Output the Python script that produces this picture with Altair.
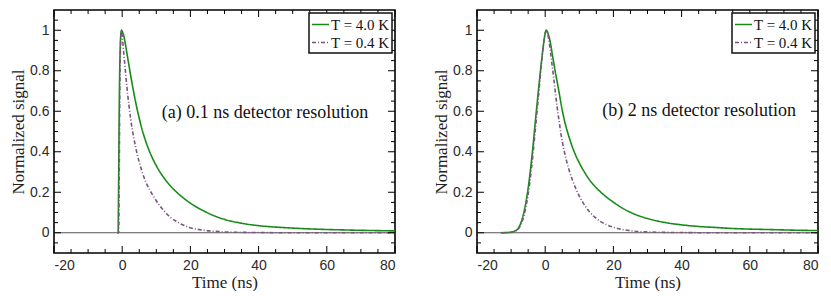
import altair as alt
import pandas as pd

SERIES = ["T = 4.0 K", "T = 0.4 K"]
COLORS = ["#178a17", "#7b5580"]
PANEL_TEXT = ["(a) 0.1 ns detector resolution", "(b) 2 ns detector resolution"]

# Panel (a): 0.1 ns resolution
a_hot_t = [-1.5, -1.2, -1.1, -1.0, -0.9, -0.8, -0.6, -0.4, -0.2, 0, 0.5, 1, 1.5, 2, 2.5, 3, 3.5, 4, 5, 6, 7, 8, 9,
           10, 11, 12, 13, 14, 15, 16, 17, 18, 20, 22, 24, 26.5, 30, 35, 40, 45, 50, 55, 60, 65, 70, 75, 80]
a_hot_v = [0, 0, 0.15, 0.35, 0.55, 0.72, 0.9, 0.98, 1.0, 0.995, 0.97, 0.925, 0.875, 0.825, 0.775, 0.728, 0.683,
           0.64, 0.565, 0.5, 0.447, 0.402, 0.364, 0.331, 0.302, 0.277, 0.254, 0.234, 0.216, 0.2, 0.185, 0.171,
           0.146, 0.125, 0.107, 0.087, 0.066, 0.047, 0.035, 0.028, 0.023, 0.019, 0.016, 0.014, 0.012, 0.0105, 0.009]
a_cold_t = [-1.5, -1.0, -0.9, -0.8, -0.7, -0.55, -0.4, -0.2, 0, 0.5, 1.15, 1.6, 2, 2.5, 2.9, 3.3, 4, 5, 6, 7, 8, 8.9,
            10, 11, 12, 13, 14.3, 16, 17.5, 19.7, 22, 24, 26.5, 30, 35, 40, 50, 80]
a_cold_v = [0, 0, 0.2, 0.45, 0.7, 0.88, 0.97, 1.0, 0.97, 0.88, 0.76, 0.685, 0.625, 0.56, 0.515, 0.478, 0.418, 0.348,
            0.293, 0.248, 0.213, 0.188, 0.158, 0.134, 0.113, 0.094, 0.074, 0.055, 0.041, 0.026, 0.017, 0.012, 0.008,
            0.004, 0.002, 0.001, 0, 0]

# Panel (b): 2 ns resolution
b_hot_t = [-13, -11, -10, -9, -8, -7, -6, -5, -4, -3.5, -3, -2, -1, -0.5, 0, 0.3, 0.7, 1, 1.5, 2, 2.5, 3, 3.4, 4, 5,
           6, 6.5, 7, 8, 9, 10, 11, 12, 13, 14, 15, 16, 17, 18, 20, 23, 26.5, 30, 35, 40, 45, 50, 55, 60, 65, 70,
           75, 80]
b_hot_v = [0, 0.001, 0.003, 0.008, 0.02, 0.055, 0.12, 0.22, 0.36, 0.44, 0.53, 0.7, 0.86, 0.93, 0.985, 1.0, 0.99,
           0.975, 0.94, 0.89, 0.84, 0.79, 0.755, 0.7, 0.605, 0.53, 0.5, 0.472, 0.422, 0.38, 0.345, 0.314, 0.286,
           0.261, 0.24, 0.221, 0.205, 0.19, 0.176, 0.151, 0.118, 0.09, 0.07, 0.051, 0.039, 0.031, 0.026, 0.021,
           0.018, 0.016, 0.014, 0.012, 0.011]
b_cold_t = [-13, -10, -9, -8, -7, -6, -5, -4, -3, -2, -1, -0.5, 0, 0.3, 0.7, 1, 1.5, 2, 2.45, 3, 3.5, 4, 4.6, 5, 6,
            7, 8, 9, 10, 11, 12, 13, 14, 16, 18, 20, 23, 26, 30, 35, 40, 50, 80]
b_cold_v = [0, 0.002, 0.006, 0.016, 0.045, 0.1, 0.19, 0.32, 0.49, 0.67, 0.85, 0.93, 0.985, 1.0, 0.985, 0.96, 0.9,
            0.83, 0.77, 0.69, 0.62, 0.56, 0.49, 0.452, 0.372, 0.31, 0.26, 0.217, 0.181, 0.151, 0.125, 0.103, 0.085,
            0.058, 0.04, 0.027, 0.015, 0.008, 0.004, 0.002, 0.001, 0, 0]

x_major = [-20, 0, 20, 40, 60, 80]
x_minor = [-15, -10, -5, 5, 10, 15, 25, 30, 35, 45, 50, 55, 65, 70, 75]
y_major = [0, 0.2, 0.4, 0.6, 0.8, 1]
y_minor = [-0.05, 0.05, 0.1, 0.15, 0.25, 0.3, 0.35, 0.45, 0.5, 0.55, 0.65, 0.7, 0.75, 0.85, 0.9, 0.95, 1.05]

W, H = 341, 243
MAJ, MIN = 7, 4
SERIF = "Liberation Serif"
SANS = "Liberation Sans"

xs = alt.Scale(domain=[-20, 80], nice=False, zero=False)
ys = alt.Scale(domain=[-0.1, 1.1], nice=False, zero=False)


def panel(hot_t, hot_v, cold_t, cold_v, label, lx, ly):
    df = pd.concat([
        pd.DataFrame({"t": hot_t, "v": hot_v, "s": SERIES[0], "o": 0}),
        pd.DataFrame({"t": cold_t, "v": cold_v, "s": SERIES[1], "o": 1}),
    ])
    base_x = alt.X("t:Q", scale=xs, axis=alt.Axis(values=x_major, title="Time (ns)", labelExpr="'' + datum.value",
                                                  titleFont=SERIF, labelFont=SANS))
    base_y = alt.Y("v:Q", scale=ys, axis=alt.Axis(values=y_major, title="Normalized signal",
                                                  labelExpr="'' + datum.value", titleFont=SERIF, labelFont=SANS))
    zero = alt.Chart(pd.DataFrame({"z": [0]})).mark_rule(color="#555555", strokeWidth=1).encode(
        y=alt.Y("z:Q", scale=ys))
    lines = alt.Chart(df).mark_line(strokeWidth=1.6, clip=True, interpolate="monotone").encode(
        x=base_x, y=base_y,
        color=alt.Color("s:N", scale=alt.Scale(domain=SERIES, range=COLORS),
                        legend=alt.Legend(title=None, orient="top-right")),
        strokeDash=alt.StrokeDash("s:N", scale=alt.Scale(domain=SERIES, range=[[1, 0], [4, 2, 1, 2]]),
                                  legend=alt.Legend(title=None, orient="top-right")),
        order="o:Q",
    )
    text = alt.Chart(pd.DataFrame({"k": [0]})).mark_text(
        align="left", baseline="middle", font=SERIF, fontSize=18, color="#111111"
    ).encode(x=alt.datum(lx, scale=xs), y=alt.datum(ly, scale=ys), text=alt.value(label))

    txm = pd.DataFrame({"t": x_major})
    txn = pd.DataFrame({"t": x_minor})
    tym = pd.DataFrame({"v": y_major})
    tyn = pd.DataFrame({"v": y_minor})
    tick_layers = []
    for d, ln in ((txm, MAJ), (txn, MIN)):
        tick_layers.append(alt.Chart(d).mark_rule(color="black", strokeWidth=1).encode(
            x=alt.X("t:Q", scale=xs), y=alt.value(0), y2=alt.value(ln)))
        tick_layers.append(alt.Chart(d).mark_rule(color="black", strokeWidth=1).encode(
            x=alt.X("t:Q", scale=xs), y=alt.value(H), y2=alt.value(H - ln)))
    for d, ln in ((tym, MAJ), (tyn, MIN)):
        tick_layers.append(alt.Chart(d).mark_rule(color="black", strokeWidth=1).encode(
            y=alt.Y("v:Q", scale=ys), x=alt.value(0), x2=alt.value(ln)))
        tick_layers.append(alt.Chart(d).mark_rule(color="black", strokeWidth=1).encode(
            y=alt.Y("v:Q", scale=ys), x=alt.value(W), x2=alt.value(W - ln)))

    return alt.layer(zero, lines, text, *tick_layers).properties(width=W, height=H)


left = panel(a_hot_t, a_hot_v, a_cold_t, a_cold_v, PANEL_TEXT[0], 11.6, 0.59)
right = panel(b_hot_t, b_hot_v, b_cold_t, b_cold_v, PANEL_TEXT[1], 16.7, 0.6)

chart = alt.hconcat(left, right, spacing=34).resolve_scale(
    color="independent", strokeDash="independent"
).resolve_legend(color="independent", strokeDash="independent").properties(
    padding={"left": 0, "top": 0, "right": 0, "bottom": 0}
).configure(font=SERIF).configure_view(
    stroke="black", strokeWidth=1.6
).configure_axis(
    ticks=False, domain=False, grid=False,
    labelFont=SANS, labelFontSize=14, labelColor="#2a2a2a", labelPadding=6,
    titleFont=SERIF, titleFontSize=17, titleFontWeight="normal", titleColor="#222222",
).configure_axisX(titlePadding=2, labelPadding=5).configure_axisY(titlePadding=2, labelPadding=5).configure_legend(
    offset=3, strokeColor="#111111", strokeWidth=1.5, fillColor="white", padding=2,
    labelFont=SERIF, labelFontSize=15, labelColor="#111111", labelOffset=1,
    symbolType="stroke", symbolSize=289, symbolStrokeWidth=1.6, rowPadding=-3,
)

chart.save("out.html", embed_options={"renderer": "svg", "actions": False})
